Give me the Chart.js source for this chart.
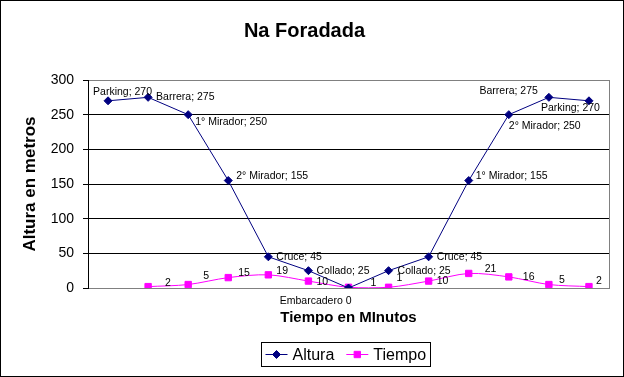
<!DOCTYPE html>
<html>
<head>
<meta charset="utf-8">
<script src="https://cdn.jsdelivr.net/npm/chart.js@4.4.1/dist/chart.umd.min.js"></script>
<style>
  body { margin: 0; background: #fff; }
  canvas { display: block; }
</style>
</head>
<body>
<canvas id="myChart" width="624" height="377"></canvas>
<script>
// points along the route
const categories = ['Parking', 'Barrera', '1° Mirador', '2° Mirador', 'Cruce', 'Collado', 'Embarcadero',
                    'Collado', 'Cruce', '1° Mirador', '2° Mirador', 'Barrera', 'Parking'];
const altura = [270, 275, 250, 155, 45, 25, 0, 25, 45, 155, 250, 275, 270];
const tiempo = [null, 2, 5, 15, 19, 10, 1, 1, 10, 21, 16, 5, 2];
const yTicks = [0, 50, 100, 150, 200, 250, 300];

// where each value label sits next to its point: [dx, dy, align]
const alturaLabelPos = [[-15, -9], [8, 0], [7, 7], [8, -4], [8, 0], [8, 0], [3, 13, 'right'],
                        [9, 0], [8, 0], [7, -4], [0, 11], [-11, -6, 'right'], [11, 7, 'right']];
const tiempoLabelPos = [null, [17, -4], [15, -8], [10, -4], [8, -4], [8, 1], [22, -4],
                        [8, -9], [8, 0], [16, -4], [14, 0], [10, -4], [7, -6]];

const FONT = '"Liberation Sans", Arial, sans-serif';
const GRAY = '#808080';
Chart.defaults.font.family = FONT;
Chart.defaults.color = '#000';

const pointLabels = {
  id: 'pointLabels',
  afterDatasetsDraw(chart) {
    const ctx = chart.ctx;
    ctx.save();
    ctx.font = '10.5px ' + FONT;
    ctx.fillStyle = '#000';
    ctx.textBaseline = 'middle';
    chart.data.datasets.forEach((ds, i) => {
      const meta = chart.getDatasetMeta(i);
      meta.data.forEach((pt, j) => {
        const v = ds.data[j];
        const pos = ds.labelPos[j];
        if (v === null || !pos) return;
        let text = String(v);
        if (ds.named) text = v === 0 ? categories[j] + ' ' + v : categories[j] + '; ' + v;
        ctx.textAlign = pos[2] || 'left';
        ctx.fillText(text, pt.x + pos[0], pt.y + pos[1]);
      });
    });
    ctx.restore();
  }
};

const frame = {
  id: 'frame',
  beforeDatasetsDraw(chart) {
    const {ctx, chartArea} = chart;
    ctx.save();
    ctx.strokeStyle = GRAY;
    ctx.lineWidth = 1;
    ctx.beginPath();
    ctx.moveTo(Math.round(chartArea.right) + 0.5, chartArea.top);
    ctx.lineTo(Math.round(chartArea.right) + 0.5, chartArea.bottom);
    ctx.stroke();
    ctx.restore();
  },
  afterDraw(chart) {
    const {ctx, chartArea} = chart;
    ctx.save();
    ctx.strokeStyle = '#000';
    ctx.lineWidth = 1;
    ctx.strokeRect(0.5, 0.5, chart.width - 1, chart.height - 1);

    // legend with a border, like the excel one
    ctx.font = '16px ' + FONT;
    const sample = 22, gap = 5, spacing = 12, pad = 4;
    const items = chart.data.datasets;
    let total = pad * 2;
    items.forEach((ds, k) => {
      total += sample + gap + ctx.measureText(ds.label).width + (k ? spacing : 0);
    });
    const cx = (chartArea.left + chartArea.right) / 2 - 3;
    let x = Math.round(cx - total / 2) + 0.5;
    const top = Math.round(chart.scales.x.bottom + 15) + 0.5;
    const h = 24;
    ctx.strokeRect(x, top, Math.round(total), h);
    const my = top + h / 2;
    x += pad;
    items.forEach((ds, k) => {
      if (k) x += spacing;
      ctx.strokeStyle = ds.borderColor;
      ctx.fillStyle = ds.backgroundColor;
      ctx.lineWidth = 1;
      ctx.beginPath();
      ctx.moveTo(x, my);
      ctx.lineTo(x + sample, my);
      ctx.stroke();
      Chart.helpers.drawPoint(ctx, {pointStyle: ds.pointStyle, radius: ds.pointRadius, rotation: 0, borderWidth: 1},
                              x + sample / 2, my);
      x += sample + gap;
      ctx.fillStyle = '#000';
      ctx.textAlign = 'left';
      ctx.textBaseline = 'middle';
      ctx.fillText(ds.label, x, my + 1);
      x += ctx.measureText(ds.label).width;
    });
    ctx.restore();
  }
};

const ctx = document.getElementById('myChart');
new Chart(ctx, {
  type: 'line',
  data: {
    labels: categories,
    datasets: [{
      label: 'Altura',
      data: altura,
      named: true,
      labelPos: alturaLabelPos,
      borderColor: '#000080',
      backgroundColor: '#000080',
      borderWidth: 1,
      pointStyle: 'rectRot',
      pointRadius: 4,
      tension: 0
    }, {
      label: 'Tiempo',
      data: tiempo,
      named: false,
      labelPos: tiempoLabelPos,
      borderColor: '#FF00FF',
      backgroundColor: '#FF00FF',
      borderWidth: 1,
      pointStyle: 'rect',
      pointRadius: 4.5,
      tension: 0.3
    }]
  },
  options: {
    responsive: false,
    animation: false,
    devicePixelRatio: 1,
    layout: { padding: { left: 0, right: 15, top: 0, bottom: 50 } },
    plugins: {
      legend: { display: false },
      tooltip: { enabled: false },
      title: {
        display: true,
        text: 'Na Foradada',
        font: { size: 20, weight: 'bold' },
        padding: { top: 19, bottom: 37 }
      }
    },
    scales: {
      x: {
        offset: true,
        grid: { display: false, drawTicks: false },
        border: { color: GRAY },
        ticks: { display: false },
        title: {
          display: true,
          text: 'Tiempo en MInutos',
          font: { size: 15, weight: 'bold' },
          padding: { top: 21, bottom: 0 }
        }
      },
      y: {
        min: yTicks[0],
        max: yTicks[yTicks.length - 1],
        afterBuildTicks: scale => { scale.ticks = yTicks.map(v => ({ value: v })); },
        afterFit: scale => { scale.width = 88; },
        border: { color: '#000' },
        grid: {
          color: c => (c.tick && (c.tick.value === 0 || c.tick.value === 300)) ? GRAY : '#000',
          tickColor: '#000',
          tickLength: 5
        },
        ticks: { font: { size: 14 }, padding: 9 },
        title: {
          display: true,
          text: 'Altura en metros',
          font: { size: 17, weight: 'bold' },
          padding: { top: 20, bottom: 0 }
        }
      }
    }
  },
  plugins: [frame, pointLabels]
});
</script>
</body>
</html>
